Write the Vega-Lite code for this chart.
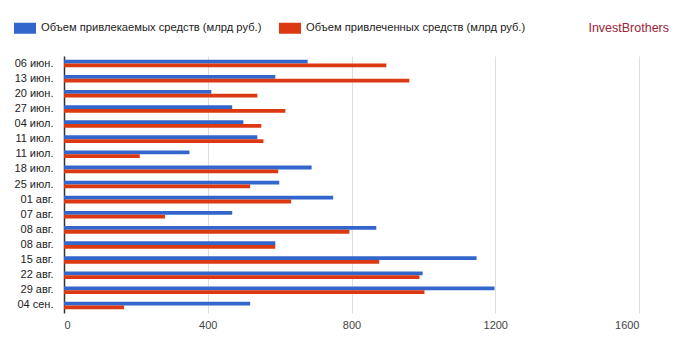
{
  "$schema": "https://vega.github.io/schema/vega-lite/v6.json",
  "autosize": {"type": "none"},
  "width": 575,
  "height": 257,
  "padding": {"left": 64, "top": 56, "right": 41, "bottom": 38},
  "background": "#ffffff",
  "title": {
    "text": "InvestBrothers",
    "anchor": "end",
    "frame": "group",
    "orient": "top",
    "fontSize": 12.5,
    "fontWeight": "normal",
    "font": "Liberation Sans",
    "color": "#9b2335",
    "dx": 30,
    "offset": 0,
    "dy": 17
  },
  "data": {
    "values": [
      {"date": "06 июн.", "series": "Объем привлекаемых средств (млрд руб.)", "value": 678},
      {"date": "06 июн.", "series": "Объем привлеченных средств (млрд руб.)", "value": 897},
      {"date": "13 июн.", "series": "Объем привлекаемых средств (млрд руб.)", "value": 588},
      {"date": "13 июн.", "series": "Объем привлеченных средств (млрд руб.)", "value": 961},
      {"date": "20 июн.", "series": "Объем привлекаемых средств (млрд руб.)", "value": 410},
      {"date": "20 июн.", "series": "Объем привлеченных средств (млрд руб.)", "value": 538},
      {"date": "27 июн.", "series": "Объем привлекаемых средств (млрд руб.)", "value": 468},
      {"date": "27 июн.", "series": "Объем привлеченных средств (млрд руб.)", "value": 616},
      {"date": "04 июл.", "series": "Объем привлекаемых средств (млрд руб.)", "value": 499},
      {"date": "04 июл.", "series": "Объем привлеченных средств (млрд руб.)", "value": 549},
      {"date": "11 июл.", "series": "Объем привлекаемых средств (млрд руб.)", "value": 538},
      {"date": "11 июл.", "series": "Объем привлеченных средств (млрд руб.)", "value": 555},
      {"date": "11 июл.\u200b", "series": "Объем привлекаемых средств (млрд руб.)", "value": 349},
      {"date": "11 июл.\u200b", "series": "Объем привлеченных средств (млрд руб.)", "value": 211},
      {"date": "18 июл.", "series": "Объем привлекаемых средств (млрд руб.)", "value": 689},
      {"date": "18 июл.", "series": "Объем привлеченных средств (млрд руб.)", "value": 596},
      {"date": "25 июл.", "series": "Объем привлекаемых средств (млрд руб.)", "value": 599},
      {"date": "25 июл.", "series": "Объем привлеченных средств (млрд руб.)", "value": 518},
      {"date": "01 авг.", "series": "Объем привлекаемых средств (млрд руб.)", "value": 749},
      {"date": "01 авг.", "series": "Объем привлеченных средств (млрд руб.)", "value": 632},
      {"date": "07 авг.", "series": "Объем привлекаемых средств (млрд руб.)", "value": 468},
      {"date": "07 авг.", "series": "Объем привлеченных средств (млрд руб.)", "value": 281},
      {"date": "08 авг.", "series": "Объем привлекаемых средств (млрд руб.)", "value": 869},
      {"date": "08 авг.", "series": "Объем привлеченных средств (млрд руб.)", "value": 794},
      {"date": "08 авг.\u200b", "series": "Объем привлекаемых средств (млрд руб.)", "value": 588},
      {"date": "08 авг.\u200b", "series": "Объем привлеченных средств (млрд руб.)", "value": 588},
      {"date": "15 авг.", "series": "Объем привлекаемых средств (млрд руб.)", "value": 1148},
      {"date": "15 авг.", "series": "Объем привлеченных средств (млрд руб.)", "value": 877},
      {"date": "22 авг.", "series": "Объем привлекаемых средств (млрд руб.)", "value": 998},
      {"date": "22 авг.", "series": "Объем привлеченных средств (млрд руб.)", "value": 989},
      {"date": "29 авг.", "series": "Объем привлекаемых средств (млрд руб.)", "value": 1198},
      {"date": "29 авг.", "series": "Объем привлеченных средств (млрд руб.)", "value": 1003},
      {"date": "04 сен.", "series": "Объем привлекаемых средств (млрд руб.)", "value": 518},
      {"date": "04 сен.", "series": "Объем привлеченных средств (млрд руб.)", "value": 167}
    ]
  },
  "mark": {"type": "bar", "opacity": 1},
  "encoding": {
    "y": {
      "field": "date",
      "type": "nominal",
      "sort": null,
      "scale": {"paddingInner": 0.5, "paddingOuter": 0.25},
      "axis": {
        "title": null,
        "ticks": false,
        "labelPadding": 11,
        "labelFontSize": 11,
        "labelFont": "Liberation Sans",
        "labelColor": "#222222",
        "domainColor": "#333333",
        "domainWidth": 1.5,
        "grid": false
      }
    },
    "yOffset": {
      "field": "series",
      "type": "nominal",
      "sort": ["Объем привлекаемых средств (млрд руб.)", "Объем привлеченных средств (млрд руб.)"]
    },
    "x": {
      "field": "value",
      "type": "quantitative",
      "scale": {"domain": [0, 1600], "nice": false},
      "axis": {
        "title": null,
        "values": [0, 400, 800, 1200, 1600],
        "format": "d",
        "ticks": false,
        "domain": false,
        "labelPadding": 6,
        "labelFontSize": 11,
        "labelFont": "Liberation Sans",
        "labelColor": "#444444",
        "gridColor": "#dddddd",
        "gridWidth": 1
      }
    },
    "color": {
      "field": "series",
      "type": "nominal",
      "sort": ["Объем привлекаемых средств (млрд руб.)", "Объем привлеченных средств (млрд руб.)"],
      "scale": {"range": ["#3366cc", "#dc3912"]},
      "legend": {
        "title": null,
        "orient": "none",
        "direction": "horizontal",
        "legendX": -50,
        "legendY": -39,
        "padding": 0,
        "symbolType": "M-1,-0.5H1V0.5H-1Z",
        "symbolSize": 484,
        "symbolStrokeWidth": 0,
        "symbolOpacity": 1,
        "labelOffset": 5,
        "labelFontSize": 11.2,
        "labelFont": "Liberation Sans",
        "labelColor": "#222222",
        "labelLimit": 400,
        "columnPadding": 17
      }
    }
  },
  "config": {
    "view": {"stroke": null}
  }
}
